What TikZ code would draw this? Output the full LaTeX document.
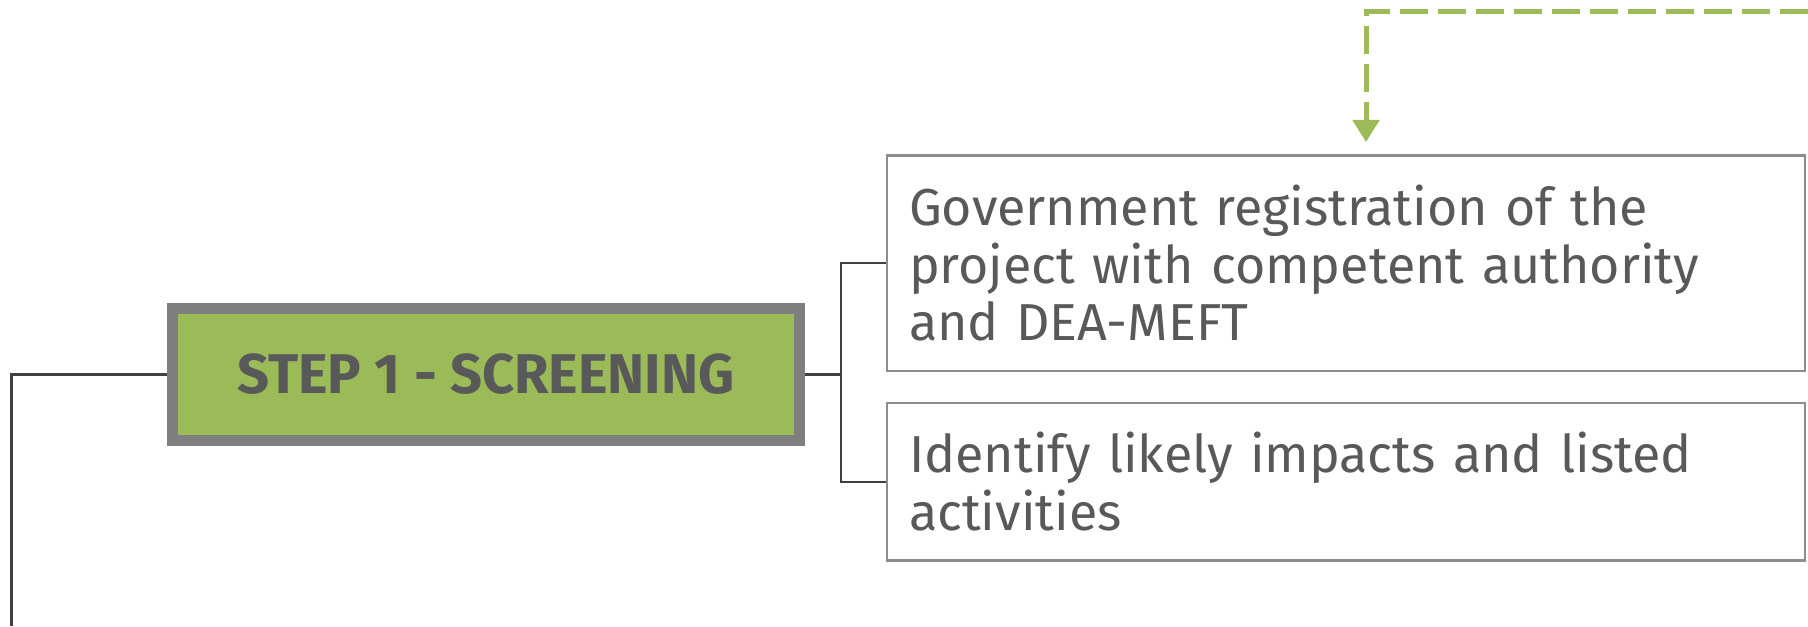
\documentclass[tikz,border=0pt]{standalone}
\usepackage{fontspec}
\setmainfont{Fira Sans}
\usepackage{tikz}
\usetikzlibrary{arrows.meta}
\usetikzlibrary{positioning}
\definecolor{stepgreen}{HTML}{9BBB59}
\definecolor{stepframe}{HTML}{7F7F7F}
\definecolor{boxframe}{HTML}{8C8C8C}
\definecolor{textgray}{HTML}{595959}
\definecolor{linkgray}{HTML}{404040}
\tikzset{
  stepbox/.style={draw=stepframe, line width=5.5pt, fill=stepgreen, inner sep=0pt,
    minimum width=313.5pt, minimum height=66pt, text=textgray,
    font=\fontsize{28}{30}\selectfont\bfseries},
  infobox/.style={draw=boxframe, line width=1.1pt, inner xsep=11pt, inner ysep=0pt,
    minimum width=459pt, text width=437pt, align=left, text=textgray,
    font=\fontsize{26}{28.75}\selectfont},
  link/.style={draw=linkgray, line width=1.1pt},
  feedback/.style={draw=stepgreen, line width=2.5pt, dash pattern=on 14pt off 5pt,
    -{Triangle[width=13pt,length=11pt]}}
}
\begin{document}
\begin{tikzpicture}[x=0.5pt, y=-0.5pt]
    \useasboundingbox (0,0) rectangle (1808,626);

    \node [stepbox] (step1) at (486,374.5) {STEP 1 - SCREENING};
    \node [infobox, minimum height=107.75pt] (reg) at (1346,263.25)
      {Government registration of the\\ project with competent authority\\ and DEA-MEFT};
    \node [infobox, minimum height=78.75pt] (impact) at (1346,481.75)
      {Identify likely impacts and listed\\ activities};

    \coordinate (trunk) at (11.5,626);
    \coordinate (fbstart) at (1808,12);
    \coordinate (fbtip) at (1366,142);

    \draw [link] (step1.west) -| (trunk);
    \draw [link] (step1.east) -- ++(36,0) |- (reg.west);
    \draw [link] (step1.east) -- ++(36,0) |- (impact.west);
    \draw [feedback] (fbstart) -| (fbtip);
\end{tikzpicture}
\end{document}
